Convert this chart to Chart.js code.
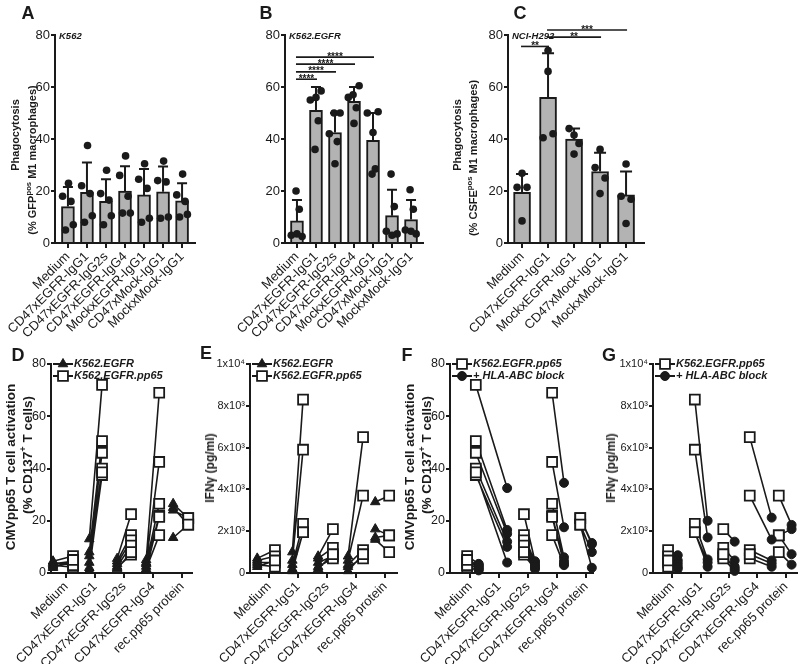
<!DOCTYPE html>
<html>
<head>
<meta charset="utf-8">
<script src="https://cdn.jsdelivr.net/npm/chart.js@4.4.1/dist/chart.umd.min.js"></script>
<style>
  body { margin: 0; background: #fff; }
  #fig { position: relative; width: 800px; height: 664px; overflow: hidden;
         font-family: "Liberation Sans", Arial, sans-serif; color: #1a1a1a; }
  canvas { position: absolute; }
  .lt { position: absolute; z-index: 2; font-weight: bold; font-size: 18px; transform: translate(-50%, -50%); }
  .yt { position: absolute; z-index: 2; font-weight: bold; white-space: nowrap;
        transform: translate(-50%, -50%) rotate(-90deg); }
  .yt sup { font-size: 70%; }
</style>
</head>
<body>
<div id="fig">
  <div class="lt" style="left:28px;top:13px">A</div>
  <div class="lt" style="left:266px;top:13px">B</div>
  <div class="lt" style="left:520px;top:13px">C</div>
  <div class="lt" style="left:18px;top:355px">D</div>
  <div class="lt" style="left:206px;top:353px">E</div>
  <div class="lt" style="left:407px;top:355px">F</div>
  <div class="lt" style="left:609px;top:355px">G</div>

  <div class="yt" style="left:15px;top:135px;font-size:11px">Phagocytosis</div>
  <div class="yt" style="left:31px;top:160px;font-size:11px">(% GFP<sup>pos</sup> M1 macrophages)</div>
  <div class="yt" style="left:457px;top:135px;font-size:11px">Phagocytosis</div>
  <div class="yt" style="left:472px;top:158px;font-size:11px">(% CSFE<sup>pos</sup> M1 macrophages)</div>
  <div class="yt" style="left:10px;top:467px;font-size:13.5px">CMVpp65 T cell activation</div>
  <div class="yt" style="left:26px;top:455px;font-size:13.5px">(% CD137<sup>+</sup> T cells)</div>
  <div class="yt" style="left:210px;top:468px;font-size:12px">IFNγ (pg/ml)</div>
  <div class="yt" style="left:409px;top:467px;font-size:13.5px">CMVpp65 T cell activation</div>
  <div class="yt" style="left:425px;top:455px;font-size:13.5px">(% CD137<sup>+</sup> T cells)</div>
  <div class="yt" style="left:611px;top:468px;font-size:12px">IFNγ (pg/ml)</div>
</div>

<script>
// ---------- gegevens: bovenste rij (fagocytose) ----------
const catsAB = ['Medium', 'CD47xEGFR-IgG1', 'CD47xEGFR-IgG2s', 'CD47xEGFR-IgG4',
                'MockxEGFR-IgG1', 'CD47xMock-IgG1', 'MockxMock-IgG1'];
const catsC = ['Medium', 'CD47xEGFR-IgG1', 'MockxEGFR-IgG1', 'CD47xMock-IgG1', 'MockxMock-IgG1'];
const pctTicks = ['0', '20', '40', '60', '80'];

const meanA = [14, 19.5, 16, 20, 18.5, 19.7, 16.2];
const sdA = [7.5, 11.5, 8.5, 9.5, 10, 9.7, 6.8];
const dotsA = [
  [18, 23, 16, 5, 7],
  [22, 37.5, 19, 8, 10.5],
  [19, 28, 16.5, 7, 10.5],
  [26, 33.5, 18, 11.5, 11.5],
  [24.5, 30.5, 21, 8, 9.5],
  [24, 31.5, 23.5, 9.5, 10],
  [18.5, 26.5, 16, 10, 11]
];

const meanB = [8.5, 51, 42.5, 54.5, 39.5, 10.5, 9];
const sdB = [8, 9, 7.5, 5.5, 10.5, 10, 7.5];
const dotsB = [
  [3, 20, 2.5, 13, 3.5],
  [55, 36, 58.5, 47, 56],
  [42, 50, 50, 39, 30.5],
  [56, 57, 60.5, 52, 46],
  [50, 26.5, 50.5, 28.5, 42.5],
  [4.5, 26.5, 3.5, 14, 3],
  [5, 20.5, 3.5, 13, 4.5]
];
const sigB = { pairs: [[0, 1], [0, 2], [0, 3], [0, 4]], levels: [63, 65.8, 68.8, 71.5],
               labels: ['****', '****', '****', '****'] };

const meanC = [19.5, 56, 40, 27.5, 18.5];
const sdC = [7, 17, 4, 7.2, 9];
const dotsC = [
  [26.8, 21.4, 21.4, 8.5],
  [74, 40.5, 42, 66],
  [41.5, 44, 38.3, 34.2],
  [36, 29, 25, 19],
  [30.4, 18, 16.8, 7.5]
];
const sigC = { pairs: [[0, 1], [1, 3], [1, 4]], levels: [75.6, 79.2, 81.9],
               labels: ['**', '**', '***'] };

// ---------- gegevens: onderste rij (T-celactivatie en IFNy) ----------
const catsDG = ['Medium', 'CD47xEGFR-IgG1', 'CD47xEGFR-IgG2s', 'CD47xEGFR-IgG4', 'rec.pp65 protein'];
const ifnTicks = ['0', '2x10³', '4x10³', '6x10³', '8x10³', '1x10⁴'];

const actEgfr = [
  [4.5, 3.5, 3, 2.5, 4, 2],
  [13, 8, 6.5, 4, 2, 1],
  [5.5, 4.5, 3.5, 2.5, 2, 1.5],
  [5, 4, 3.5, 2.5, 1.5, 1],
  [26.5, 25, 24, 13.5]
];
const actPp65 = [
  [6.5, 4.5, 2.2, 4, 3, 5],
  [72, 50.5, 46, 40, 37.5, 38.5],
  [22.5, 14.5, 12.5, 10.5, 7, 8],
  [69, 42.5, 26.5, 22, 14.5, 21.5],
  [21, 18.5, 21, 18.5]
];
const actBlock = [
  [3.5, 2.5, 1, 1.5, 2, 3],
  [32.5, 16.5, 15, 12, 10, 4],
  [4.5, 4, 3, 2, 1.5, 2.5],
  [34.5, 17.5, 6, 4.5, 3, 3.5],
  [11.5, 8, 11, 2]
];

const ifnEgfr = [
  [700, 600, 500, 400, 300],
  [1000, 600, 400, 200, 100],
  [800, 700, 500, 300, 200],
  [800, 600, 400, 300, 100],
  [3400, 2100, 1700, 1600]
];
const ifnPp65 = [
  [1100, 800, 500, 300, 600],
  [8300, 5900, 2350, 1950, 1950],
  [2100, 1200, 800, 700, 900],
  [6500, 3700, 1100, 700, 900],
  [3700, 1800, 1800, 1000]
];
const ifnBlock = [
  [850, 600, 450, 300, 200],
  [2500, 1700, 650, 300, 500],
  [1500, 600, 300, 100, 200],
  [2650, 1600, 600, 300, 450],
  [2300, 2100, 900, 400]
];

// ---------- opmaak ----------
const FONT = '"Liberation Sans", Arial, sans-serif';
const INK = '#1a1a1a';
const YW = 48, XH = 100, PT = 20, PR = 10;

const triStyle = { pointStyle: 'triangle', pointRadius: 5.5, backgroundColor: INK, borderColor: INK, borderWidth: 1 };
const sqStyle = { pointStyle: 'rect', pointRadius: 7, backgroundColor: '#fff', borderColor: INK, borderWidth: 1.8 };
const dotStyle = { pointStyle: 'circle', pointRadius: 4.5, backgroundColor: INK, borderColor: INK, borderWidth: 1 };

function makeCanvas(id, p) {
  const c = document.createElement('canvas');
  c.id = id;
  const w = p.rx - p.ax + YW + PR, h = p.by - p.ty + PT + XH;
  c.width = w; c.height = h;
  c.style.left = (p.ax - YW) + 'px';
  c.style.top = (p.ty - PT) + 'px';
  c.style.width = w + 'px';
  c.style.height = h + 'px';
  document.getElementById('fig').prepend(c);
  return c;
}

function xScale(cats, min, max) {
  return {
    type: 'linear', min: min, max: max, offset: false,
    afterBuildTicks: s => { s.ticks = cats.map((c, i) => ({ value: i })); },
    afterFit: s => { s.height = XH; },
    ticks: { autoSkip: false, minRotation: 45, maxRotation: 45, padding: 1, color: INK,
             font: { family: FONT, size: 13 }, callback: v => cats[v] },
    grid: { drawOnChartArea: false, drawTicks: true, tickLength: 5, color: INK, lineWidth: 2, offset: false },
    border: { display: true, color: INK, width: 2 }
  };
}

function yScale(max, step, labels, size) {
  return {
    type: 'linear', min: 0, max: max,
    afterBuildTicks: s => { s.ticks = labels.map((l, i) => ({ value: i * step })); },
    afterFit: s => { s.width = YW; },
    ticks: { padding: 1, color: INK, font: { family: FONT, size: size },
             callback: v => labels[Math.round(v / step)] },
    grid: { drawOnChartArea: false, drawTicks: true, tickLength: 4, color: INK, lineWidth: 2 },
    border: { display: true, color: INK, width: 2 }
  };
}

function drawMarker(ctx, st, x, y) {
  const r = st.pointRadius;
  ctx.beginPath();
  if (st.pointStyle === 'triangle') {
    for (let k = 0; k < 3; k++) {
      const a = k * 2 * Math.PI / 3;
      const px = x + Math.sin(a) * r, py = y - Math.cos(a) * r;
      if (k) ctx.lineTo(px, py); else ctx.moveTo(px, py);
    }
    ctx.closePath();
  } else if (st.pointStyle === 'rect') {
    const h = r * Math.SQRT1_2;
    ctx.rect(x - h, y - h, 2 * h, 2 * h);
  } else {
    ctx.arc(x, y, r, 0, 2 * Math.PI);
  }
  ctx.fillStyle = st.backgroundColor; ctx.fill();
  ctx.lineWidth = st.borderWidth; ctx.strokeStyle = st.borderColor; ctx.stroke();
}

// foutbalken (gemiddelde + SD) direct na de staven
const errorBars = {
  id: 'errorBars',
  afterDatasetDraw(chart, args) {
    const ds = chart.data.datasets[args.index];
    if (!ds.errors) return;
    const ctx = chart.ctx, xs = chart.scales.x, ys = chart.scales.y;
    ctx.save();
    ctx.strokeStyle = INK; ctx.lineWidth = 2;
    ds.data.forEach((p, i) => {
      const x = xs.getPixelForValue(p.x);
      const y0 = ys.getPixelForValue(p.y), y1 = ys.getPixelForValue(p.y + ds.errors[i]);
      ctx.beginPath();
      ctx.moveTo(x, y0); ctx.lineTo(x, y1);
      ctx.moveTo(x - ds.cap, y1); ctx.lineTo(x + ds.cap, y1);
      ctx.stroke();
    });
    ctx.restore();
  }
};

// significantielijnen met sterretjes
const sigLines = {
  id: 'sigLines',
  afterDraw(chart, args, o) {
    if (!o.pairs) return;
    const ctx = chart.ctx, xs = chart.scales.x, ys = chart.scales.y;
    ctx.save();
    ctx.strokeStyle = INK; ctx.fillStyle = INK; ctx.lineWidth = 1.6;
    ctx.font = 'bold 10px ' + FONT; ctx.textAlign = 'center'; ctx.textBaseline = 'alphabetic';
    o.pairs.forEach((pr, k) => {
      const x0 = xs.getPixelForValue(pr[0]) - 1, x1 = xs.getPixelForValue(pr[1]) + 1;
      const y = ys.getPixelForValue(o.levels[k]);
      ctx.beginPath(); ctx.moveTo(x0, y); ctx.lineTo(x1, y); ctx.stroke();
      ctx.fillText(o.labels[k], (x0 + x1) / 2, y + 2.5);
    });
    ctx.restore();
  }
};

// cellijn-label linksboven in de grafiek
const insetLabel = {
  id: 'insetLabel',
  afterDraw(chart, args, o) {
    if (!o.text) return;
    const ctx = chart.ctx, a = chart.chartArea;
    ctx.save();
    ctx.fillStyle = INK; ctx.font = 'italic bold 9.5px ' + FONT; ctx.textBaseline = 'middle';
    ctx.fillText(o.text, a.left + 4, a.top + 1);
    ctx.restore();
  }
};

// legenda met lijn en symbool
const pairLegend = {
  id: 'pairLegend',
  afterDraw(chart, args, o) {
    if (!o.items) return;
    const ctx = chart.ctx, a = chart.chartArea;
    ctx.save();
    o.items.forEach((it, k) => {
      const y = a.top + k * 12;
      ctx.strokeStyle = INK; ctx.lineWidth = 2;
      ctx.beginPath(); ctx.moveTo(a.left + 2, y); ctx.lineTo(a.left + 22, y); ctx.stroke();
      drawMarker(ctx, it.style, a.left + 12, y);
      ctx.fillStyle = INK; ctx.font = 'italic bold 11px ' + FONT; ctx.textBaseline = 'middle';
      ctx.fillText(it.label, a.left + 23, y);
    });
    ctx.restore();
  }
};

function dotPoints(dots, jit) {
  const pts = [];
  dots.forEach((vals, i) => vals.forEach((v, k) => pts.push({ x: i + jit[k], y: v })));
  return pts;
}

function barPanel(id, p, cats, means, sds, dots, jit, bw, cap, inset, sig) {
  const c = makeCanvas(id, p);
  return new Chart(c.getContext('2d'), {
    type: 'bar',
    data: {
      datasets: [
        { type: 'scatter', data: dotPoints(dots, jit), pointStyle: 'circle', pointRadius: 3.8,
          backgroundColor: INK, borderColor: INK, borderWidth: 0, order: 0, clip: false },
        { type: 'bar', data: means.map((m, i) => ({ x: i, y: m })), errors: sds, cap: cap,
          backgroundColor: '#b3b3b3', borderColor: INK, borderWidth: 2, barThickness: bw, order: 1 }
      ]
    },
    options: {
      responsive: false, animation: false,
      layout: { padding: { top: PT, right: PR, left: 0, bottom: 0 } },
      scales: { x: xScale(cats, p.xmin, p.xmax), y: yScale(80, 20, pctTicks, 13) },
      plugins: { legend: { display: false }, tooltip: { enabled: false },
                 insetLabel: { text: inset }, sigLines: sig || {} }
    },
    plugins: [errorBars, sigLines, insetLabel]
  });
}

function pairPanel(id, p, yMax, yStep, yTicks, tickSize, left, right, offL, offR, stL, stR, legend) {
  const c = makeCanvas(id, p);
  const segs = [], ptsL = [], ptsR = [];
  left.forEach((vals, i) => vals.forEach((v, k) => {
    const a = { x: i + offL[i], y: v }, b = { x: i + offR[i], y: right[i][k] };
    ptsL.push(a); ptsR.push(b);
    segs.push(a, b, { x: i, y: null });
  }));
  return new Chart(c.getContext('2d'), {
    type: 'scatter',
    data: {
      datasets: [
        { data: segs, showLine: true, spanGaps: false, pointRadius: 0, borderColor: INK,
          borderWidth: 1.6, order: 3, clip: false },
        Object.assign({ data: ptsL, order: 2, clip: false }, stL),
        Object.assign({ data: ptsR, order: 1, clip: false }, stR)
      ]
    },
    options: {
      responsive: false, animation: false,
      layout: { padding: { top: PT, right: PR, left: 0, bottom: 0 } },
      scales: { x: xScale(catsDG, p.xmin, p.xmax), y: yScale(yMax, yStep, yTicks, tickSize) },
      plugins: { legend: { display: false }, tooltip: { enabled: false },
                 pairLegend: { items: legend } }
    },
    plugins: [pairLegend]
  });
}

// ---------- panelen ----------
barPanel('chartA', { ax: 55, rx: 195, ty: 35, by: 243, xmin: -0.68, xmax: 6.68 },
         catsAB, meanA, sdA, dotsA, [-0.28, 0.03, 0.16, -0.13, 0.28], 13, 5, 'K562');
barPanel('chartB', { ax: 285, rx: 423, ty: 35, by: 243, xmin: -0.63, xmax: 6.63 },
         catsAB, meanB, sdB, dotsB, [-0.3, -0.05, 0.27, 0.12, 0.0], 13, 5, 'K562.EGFR', sigB);
barPanel('chartC', { ax: 508, rx: 644, ty: 35, by: 243, xmin: -0.54, xmax: 4.69 },
         catsC, meanC, sdC, dotsC, [0, -0.19, 0.19, 0], 17, 6, 'NCI-H292', sigC);

pairPanel('chartD', { ax: 51, rx: 192, ty: 364, by: 573, xmin: -0.52, xmax: 4.34 },
          80, 20, pctTicks, 12.5, actEgfr, actPp65,
          [-0.45, -0.2, -0.24, -0.24, -0.31], [0.24, 0.24, 0.24, 0.21, 0.21], triStyle, sqStyle,
          [{ label: 'K562.EGFR', style: triStyle }, { label: 'K562.EGFR.pp65', style: sqStyle }]);
pairPanel('chartE', { ax: 250, rx: 397, ty: 364, by: 573, xmin: -0.66, xmax: 4.41 },
          10000, 2000, ifnTicks, 11, ifnEgfr, ifnPp65,
          [-0.41, -0.2, -0.31, -0.28, -0.34], [0.2, 0.17, 0.2, 0.24, 0.14], triStyle, sqStyle,
          [{ label: 'K562.EGFR', style: triStyle }, { label: 'K562.EGFR.pp65', style: sqStyle }]);
pairPanel('chartF', { ax: 450, rx: 593, ty: 364, by: 573, xmin: -0.69, xmax: 4.24 },
          80, 20, pctTicks, 12.5, actPp65, actBlock,
          [-0.1, -0.8, -0.14, -0.17, -0.2], [0.3, 0.28, 0.24, 0.24, 0.2], sqStyle, dotStyle,
          [{ label: 'K562.EGFR.pp65', style: sqStyle }, { label: '+ HLA-ABC block', style: dotStyle }]);
pairPanel('chartG', { ax: 653, rx: 797, ty: 364, by: 573, xmin: -0.67, xmax: 4.39 },
          10000, 2000, ifnTicks, 11, ifnPp65, ifnBlock,
          [-0.14, -0.2, -0.2, -0.27, -0.25], [0.2, 0.25, 0.2, 0.5, 0.2], sqStyle, dotStyle,
          [{ label: 'K562.EGFR.pp65', style: sqStyle }, { label: '+ HLA-ABC block', style: dotStyle }]);
</script>
</body>
</html>
